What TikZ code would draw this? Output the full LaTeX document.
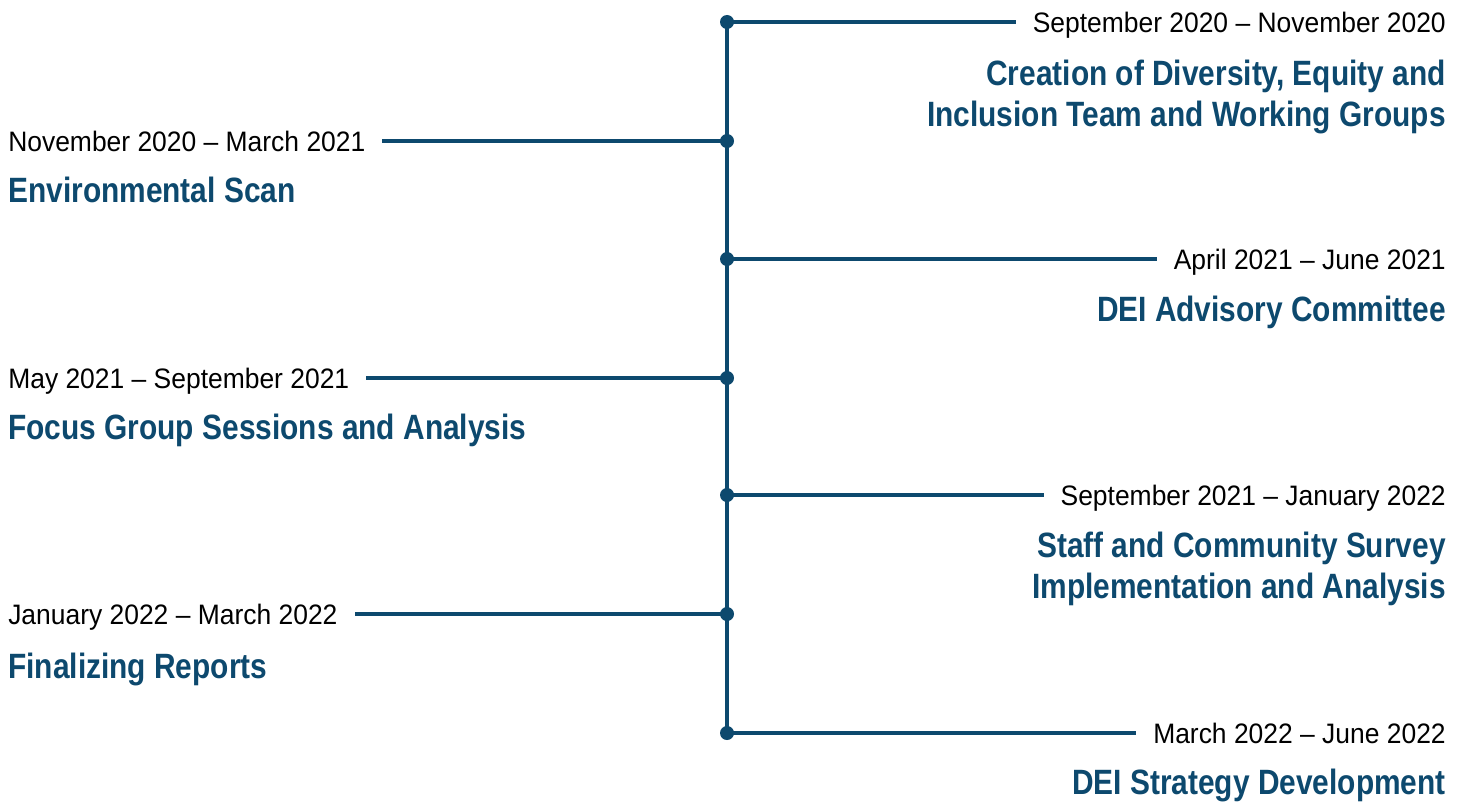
\documentclass[tikz,border=0pt]{standalone}
\usepackage{fontspec}
\setmainfont{Liberation Sans}
\newfontfamily\datefont{Liberation Sans}[FakeStretch=0.94]
\newfontfamily\phasefont{Liberation Sans}[FakeStretch=0.85]
\usepackage{tikz}
\usetikzlibrary{positioning}

\definecolor{deiblue}{RGB}{13,73,110}

\tikzset{
  stamp/.style={circle, fill=deiblue, inner sep=0pt, minimum size=0.35cm},
  link/.style={deiblue, line width=2.2pt},
  period/.style={font=\datefont\fontsize{20}{24}\selectfont, text=black, inner sep=0pt},
  phase/.style={font=\phasefont\fontsize{25}{29.2}\selectfont\bfseries, text=deiblue, inner sep=0pt},
}

\begin{document}
\begin{tikzpicture}[x=0.025cm,y=-0.025cm]
\useasboundingbox (0,0) rectangle (1466,802);

% milestones on the spine
\node[stamp] (e1) at (727,22) {};
\node[stamp] (e2) at (727,141) {};
\node[stamp] (e3) at (727,259) {};
\node[stamp] (e4) at (727,378) {};
\node[stamp] (e5) at (727,495) {};
\node[stamp] (e6) at (727,614) {};
\node[stamp] (e7) at (727,733) {};

% dates
\node[period, anchor=base east] (d1) at (1446,32) {September 2020 – November 2020};
\node[period, anchor=base west] (d2) at (8,151) {November 2020 – March 2021};
\node[period, anchor=base east] (d3) at (1446,269) {April 2021 – June 2021};
\node[period, anchor=base west] (d4) at (8,388) {May 2021 – September 2021};
\node[period, anchor=base east] (d5) at (1446,505) {September 2021 – January 2022};
\node[period, anchor=base west] (d6) at (8,624) {January 2022 – March 2022};
\node[period, anchor=base east] (d7) at (1446,743) {March 2022 – June 2022};

% phases (two-line ones sit on their last baseline)
\node[phase, align=right, anchor=base east] (t1) at (1446,126.5) {Creation of Diversity, Equity and\\Inclusion Team and Working Groups};
\node[phase, anchor=base west] (t2) at (8,202.5) {Environmental Scan};
\node[phase, anchor=base east] (t3) at (1446,321.5) {DEI Advisory Committee};
\node[phase, anchor=base west] (t4) at (8,439.5) {Focus Group Sessions and Analysis};
\node[phase, align=right, anchor=base east] (t5) at (1446,598.5) {Staff and Community Survey\\Implementation and Analysis};
\node[phase, anchor=base west] (t6) at (8,678.5) {Finalizing Reports};
\node[phase, anchor=base east] (t7) at (1446,794.5) {DEI Strategy Development};

% spine and branches
\draw[link] (e1.center) -- (e7.center);
\draw[link, shorten >=0.42cm] (e1.center) -- (d1.west |- e1);
\draw[link, shorten >=0.42cm] (e2.center) -- (d2.east |- e2);
\draw[link, shorten >=0.42cm] (e3.center) -- (d3.west |- e3);
\draw[link, shorten >=0.42cm] (e4.center) -- (d4.east |- e4);
\draw[link, shorten >=0.42cm] (e5.center) -- (d5.west |- e5);
\draw[link, shorten >=0.42cm] (e6.center) -- (d6.east |- e6);
\draw[link, shorten >=0.42cm] (e7.center) -- (d7.west |- e7);
\end{tikzpicture}
\end{document}
